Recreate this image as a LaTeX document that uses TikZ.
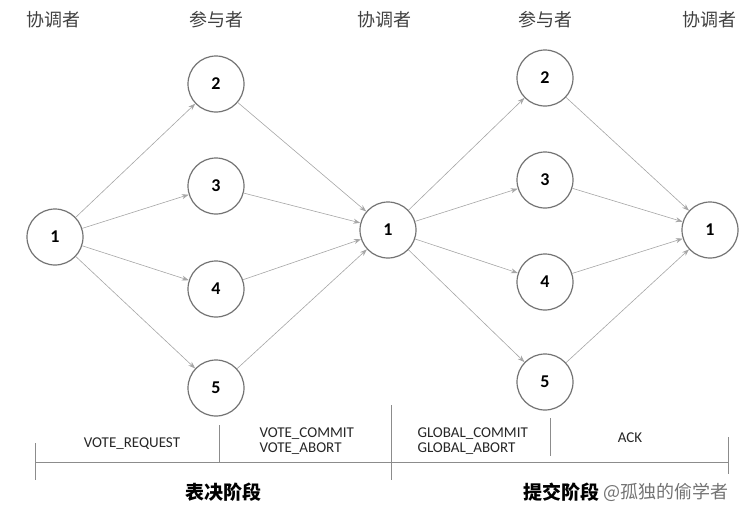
\documentclass[tikz,border=0pt]{standalone}
\usepackage{fontspec}
\setmainfont{Carlito}
\newfontfamily\cjk{Noto Sans CJK SC}
\usetikzlibrary{arrows.meta,positioning}

\begin{document}
\begin{tikzpicture}[x=1pt,y=-1pt,
  role/.style={font=\cjk\fontsize{18}{21}\selectfont, text=black!75},
  site/.style={circle, draw=black!55, line width=1.2pt, minimum size=56pt, inner sep=0pt, font=\bfseries\fontsize{18}{20}\selectfont},
  msg/.style={-{Stealth[length=7pt,width=5pt]}, draw=black!35, line width=0.6pt},
  rule/.style={draw=black!45, line width=0.9pt},
  lbl/.style={font=\fontsize{15}{16}\selectfont, align=left, text=black!85},
  phase/.style={font=\cjk\bfseries\fontsize{19}{22}\selectfont}
]
\useasboundingbox (0,0) rectangle (750,514);

% column headers
\node[role] (h1) at (54,20) {协调者};
\node[role] (h2) at (216,20) {参与者};
\node[role] (h3) at (384,20) {协调者};
\node[role] (h4) at (545,20) {参与者};
\node[role] (h5) at (709,20) {协调者};

% coordinators
\node[site] (ca) at (55,237) {1};
\node[site] (cb) at (388,230) {1};
\node[site] (cc) at (710,230) {1};

% participants, first round
\node[site] (a2) at (216,84) {2};
\node[site] (a3) at (216,186) {3};
\node[site] (a4) at (216,289) {4};
\node[site] (a5) at (216,388) {5};

% participants, second round
\node[site] (b2) at (545,78) {2};
\node[site] (b3) at (545,180) {3};
\node[site] (b4) at (545,282) {4};
\node[site] (b5) at (545,382) {5};

\foreach \p in {2,3,4,5} {
  \draw[msg] (ca) -- (a\p);
  \draw[msg] (a\p) -- (cb);
  \draw[msg] (cb) -- (b\p);
  \draw[msg] (b\p) -- (cc);
}

% time line
\coordinate (t0) at (35,462);
\coordinate (t4) at (728,462);
\draw[rule] (t0) -- (t4);
\draw[rule] (35,443) -- (35,480);
\draw[rule] (219,425) -- (219,462);
\draw[rule] (391,405) -- (391,480);
\draw[rule] (550,418) -- (550,456);
\draw[rule] (728,437) -- (728,474);

\node[lbl] (m1) at (132,444) {VOTE\_REQUEST};
\node[lbl, anchor=west] (m2) at (256,441) {VOTE\_COMMIT\\[-1pt]VOTE\_ABORT};
\node[lbl, anchor=west] (m3) at (414,441) {GLOBAL\_COMMIT\\[-1pt]GLOBAL\_ABORT};
\node[lbl] (m4) at (630,438) {ACK};

\node[phase] (p1) at (223,492) {表决阶段};
\node[phase] (p2) at (561,492) {提交阶段};
\node[font=\cjk\fontsize{18}{21}\selectfont, text=black!55, anchor=west, inner sep=1pt] (wm) at (p2.east) {@孤独的偷学者};
\end{tikzpicture}
\end{document}
